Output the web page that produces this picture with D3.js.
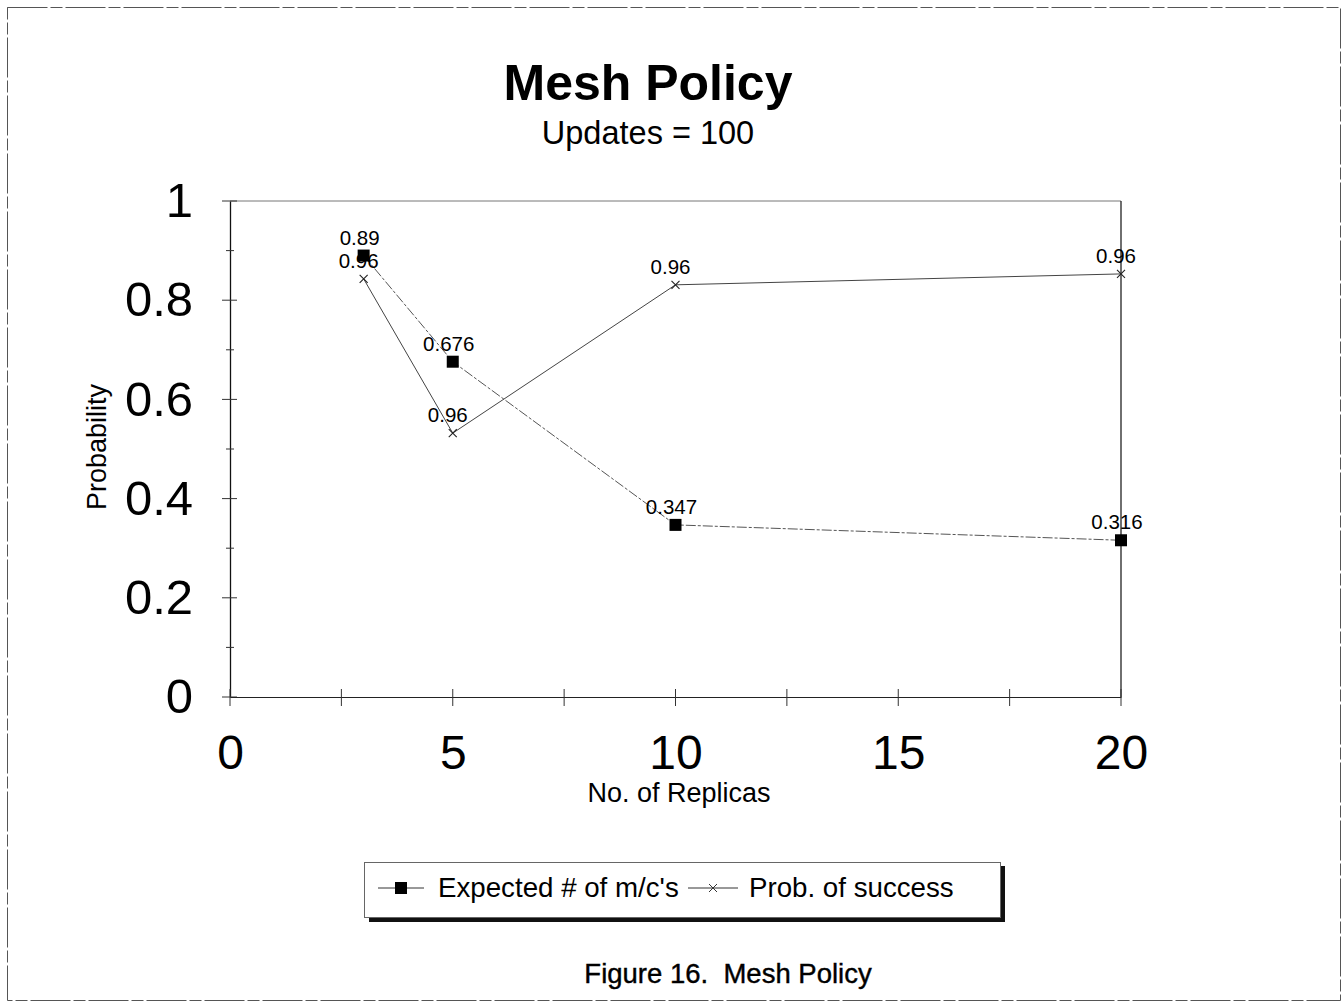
<!DOCTYPE html>
<html><head><meta charset="utf-8">
<script src="https://cdn.jsdelivr.net/npm/d3@7"></script>
<style>
html,body{margin:0;padding:0;background:#fff;}
svg{display:block;font-family:"Liberation Sans",Arial,sans-serif;}
</style></head>
<body><svg id="c" width="1344" height="1003"></svg>
<script>
// ---- data ----
const replicas = [3, 5, 10, 20];
const expectedValues = [0.89, 0.676, 0.347, 0.316];
const expectedLabels = ["0.89", "0.676", "0.347", "0.316"];
const successValues = [0.843, 0.532, 0.831, 0.853];
const successLabels = ["0.96", "0.96", "0.96", "0.96"];
const seriesNames = ["Expected # of m/c's", "Prob. of success"];
const xTicks = [0, 5, 10, 15, 20];
const xMinorTicks = [2.5, 7.5, 12.5, 17.5];
const yTicks = [0, 0.2, 0.4, 0.6, 0.8, 1];
const yMinorTicks = [0.1, 0.3, 0.5, 0.7, 0.9];

const svg = d3.select("#c");
const x = d3.scaleLinear().domain([0, 20]).range([230, 1121]);
const y = d3.scaleLinear().domain([0, 1]).range([697, 201]);

// outer border
svg.append("rect").attr("x", 7.5).attr("y", 7.5).attr("width", 1333).attr("height", 993)
  .attr("fill", "none").attr("stroke", "#555").attr("stroke-width", 1).attr("stroke-dasharray", "40 3 12 3");

// titles
svg.append("text").attr("x", 648).attr("y", 100).attr("text-anchor", "middle")
  .attr("font-size", 50).attr("font-weight", "bold").text("Mesh Policy");
svg.append("text").attr("x", 648).attr("y", 144).attr("text-anchor", "middle")
  .attr("font-size", 32.5).text("Updates = 100");

// plot frame (top and right)
svg.append("line").attr("x1", x(0)).attr("x2", x(20)).attr("y1", y(1)).attr("y2", y(1))
  .attr("stroke", "#777").attr("stroke-width", 1);
svg.append("line").attr("x1", x(20)).attr("x2", x(20)).attr("y1", y(1)).attr("y2", y(0))
  .attr("stroke", "#222").attr("stroke-width", 1.3);

// axes
const yAxis = svg.append("g").attr("transform", `translate(${x(0)},0)`)
  .call(d3.axisLeft(y).tickValues(yTicks).tickFormat(d => d3.format("")(d)).tickSize(0).tickPadding(37));
yAxis.select(".domain").attr("stroke", "#111").attr("stroke-width", 1.3);
yAxis.selectAll("text").attr("font-size", 49).attr("fill", "#000").attr("font-family", "Liberation Sans, Arial, sans-serif");
const yt = svg.append("g");
yt.selectAll("line.maj").data(yTicks).join("line").attr("class", "maj")
  .attr("x1", x(0) - 8).attr("x2", x(0) + 7).attr("y1", d => y(d)).attr("y2", d => y(d))
  .attr("stroke", "#333").attr("stroke-width", 1);
yt.selectAll("line.min").data(yMinorTicks).join("line").attr("class", "min")
  .attr("x1", x(0) - 4).attr("x2", x(0) + 4).attr("y1", d => y(d)).attr("y2", d => y(d))
  .attr("stroke", "#333").attr("stroke-width", 1);

const xAxis = svg.append("g").attr("transform", `translate(0,${y(0)})`)
  .call(d3.axisBottom(x).tickValues(xTicks).tickSize(0).tickPadding(38));
xAxis.select(".domain").attr("stroke", "#222").attr("stroke-width", 1.2);
xAxis.selectAll("text").attr("font-size", 48).attr("fill", "#000").attr("font-family", "Liberation Sans, Arial, sans-serif");
const xt = svg.append("g");
xt.selectAll("line").data(xTicks.concat(xMinorTicks)).join("line")
  .attr("x1", d => x(d)).attr("x2", d => x(d)).attr("y1", y(0) - 8).attr("y2", y(0) + 9)
  .attr("stroke", "#333").attr("stroke-width", 1);

// axis titles
svg.append("text").attr("x", 679).attr("y", 802).attr("text-anchor", "middle")
  .attr("font-size", 27).text("No. of Replicas");
svg.append("text").attr("transform", "translate(106,447) rotate(-90)").attr("text-anchor", "middle")
  .attr("font-size", 27).text("Probability");

// series
const line = d3.line().x(d => x(d[0])).y(d => y(d[1]));
const s1 = replicas.map((r, i) => [r, expectedValues[i]]);
const s2 = replicas.map((r, i) => [r, successValues[i]]);
svg.append("path").attr("d", line(s1)).attr("fill", "none").attr("stroke", "#555").attr("stroke-width", 1)
  .attr("stroke-dasharray", "10 2 3 2");
svg.append("path").attr("d", line(s2)).attr("fill", "none").attr("stroke", "#444").attr("stroke-width", 1);

svg.selectAll("rect.m1").data(s1).join("rect").attr("class", "m1")
  .attr("x", d => x(d[0]) - 6).attr("y", d => y(d[1]) - 6).attr("width", 12).attr("height", 12).attr("fill", "#000");
const xm = svg.append("g");
s2.forEach(d => {
  const cx = x(d[0]), cy = y(d[1]);
  xm.append("path").attr("d", `M${cx-4},${cy-4}L${cx+4},${cy+4}M${cx-4},${cy+4}L${cx+4},${cy-4}`)
    .attr("stroke", "#222").attr("stroke-width", 1.1);
});

// data labels
svg.selectAll("text.l1").data(s1).join("text").attr("class", "l1")
  .attr("x", d => x(d[0]) - 4).attr("y", d => y(d[1]) - 11).attr("text-anchor", "middle")
  .attr("font-size", 20.5).text((d, i) => expectedLabels[i]);
svg.selectAll("text.l2").data(s2).join("text").attr("class", "l2")
  .attr("x", d => x(d[0]) - 5).attr("y", d => y(d[1]) - 11).attr("text-anchor", "middle")
  .attr("font-size", 20.5).text((d, i) => successLabels[i]);

// legend
const lg = svg.append("g");
lg.append("rect").attr("x", 369).attr("y", 866).attr("width", 636).attr("height", 56).attr("fill", "#111");
lg.append("rect").attr("x", 364.5).attr("y", 862.5).attr("width", 636).attr("height", 55)
  .attr("fill", "#fff").attr("stroke", "#666").attr("stroke-width", 1);
lg.append("line").attr("x1", 378).attr("x2", 424).attr("y1", 888).attr("y2", 888).attr("stroke", "#333");
lg.append("rect").attr("x", 395).attr("y", 882).attr("width", 12).attr("height", 12).attr("fill", "#000");
lg.append("text").attr("x", 438).attr("y", 897).attr("font-size", 27.7).text(seriesNames[0]);
lg.append("line").attr("x1", 688).attr("x2", 738).attr("y1", 888).attr("y2", 888).attr("stroke", "#333");
lg.append("path").attr("d", "M709,884L717,892M709,892L717,884").attr("stroke", "#333");
lg.append("text").attr("x", 749).attr("y", 897).attr("font-size", 27.7).text(seriesNames[1]);

// caption
svg.append("text").attr("x", 728).attr("y", 983).attr("text-anchor", "middle")
  .attr("font-size", 27.5).attr("stroke", "#000").attr("stroke-width", 0.4)
  .style("white-space", "pre").text("Figure 16.  Mesh Policy");
</script></body></html>
